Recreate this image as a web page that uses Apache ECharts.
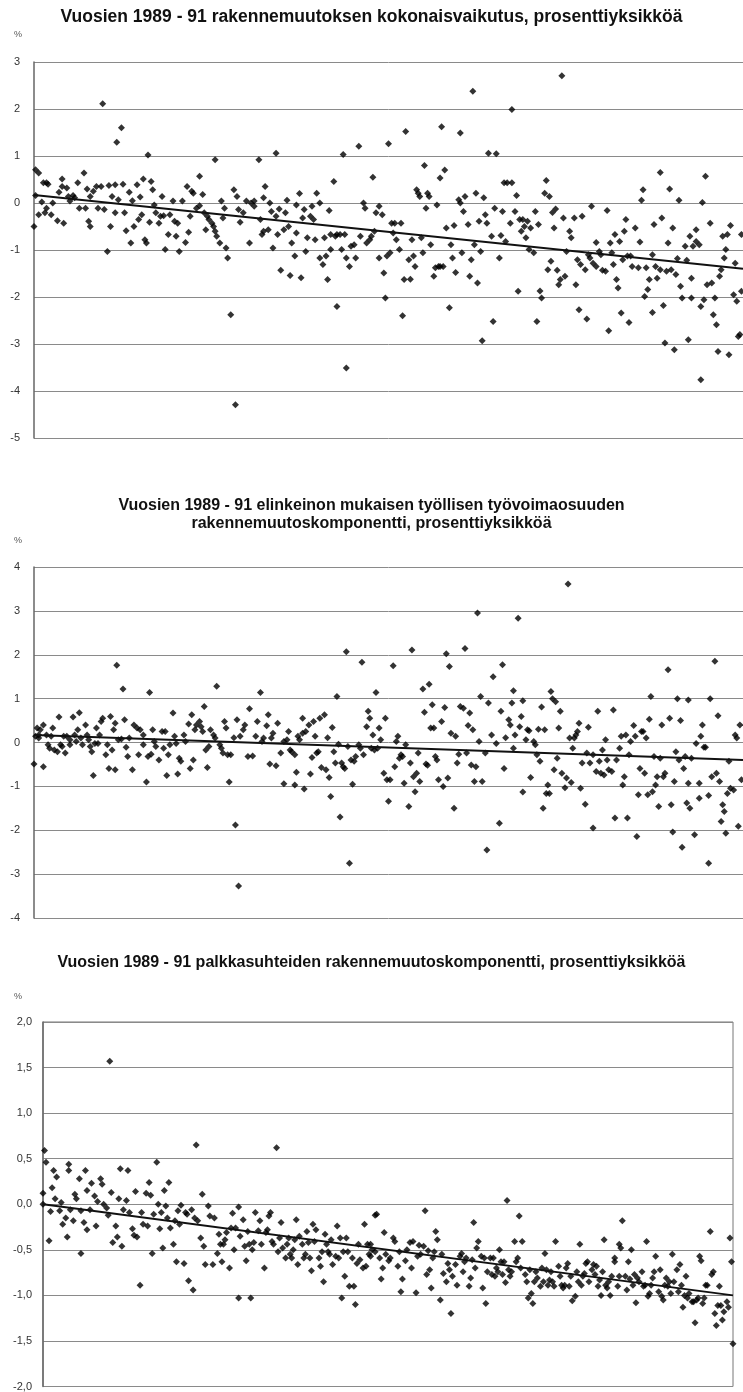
<!DOCTYPE html>
<html>
<head>
<meta charset="utf-8">
<script src="https://cdn.jsdelivr.net/npm/echarts@6/dist/echarts.min.js"></script>
<style>
  html, body { margin: 0; padding: 0; background: #fff; }
  #chart { width: 743px; height: 1392px; }
</style>
</head>
<body>
<div id="chart"></div>
<script>
// Chart texts
const titleTotal = 'Vuosien 1989 - 91 rakennemuutoksen kokonaisvaikutus, prosenttiyksikköä';
const titleIndustry = 'Vuosien 1989 - 91 elinkeinon mukaisen työllisen työvoimaosuuden\nrakennemuutoskomponentti, prosenttiyksikköä';
const titleWage = 'Vuosien 1989 - 91 palkkasuhteiden rakennemuutoskomponentti, prosenttiyksikköä';

// Chart 1: total effect
const totalA = [[0,-0.50],[1,0.16],[1,0.71],[3,0.64],[3,-0.25],[5,0.02],[6,0.43],[7,-0.21],[8,0.43],[8,-0.11],[9,0.40],[11,-0.25],[12,0.00],[15,-0.38],[16,0.23],[18,0.51],[18,0.35],[19,-0.43],[21,0.32],[22,0.14],[23,0.04],[25,0.16],[26,0.11],[28,0.43],[29,-0.11],[32,0.64],[33,-0.11],[34,0.30],[35,-0.39],[36,-0.50],[36,0.14],[38,0.25],[40,0.35],[41,-0.11],[43,0.35],[44,2.11],[45,-0.14],[47,-1.03],[48,0.37],[49,-0.50],[50,0.14],[52,0.39],[52,-0.21],[53,1.29],[54,0.07],[56,1.60],[57,0.40],[58,-0.21],[59,-0.59],[61,0.23],[62,-0.85],[63,0.05],[64,-0.50],[66,0.39],[67,-0.35],[68,0.13],[69,-0.25],[70,0.51],[71,-0.78],[72,-0.85],[73,1.02],[74,-0.41],[75,0.46],[76,0.28],[77,-0.04],[78,-0.21],[80,-0.43],[81,-0.28],[82,0.14],[83,-0.27],[84,-0.99],[86,-0.67],[87,-0.25],[89,0.04],[90,-0.39],[91,-0.71],[92,-0.43],[93,-1.03],[95,0.04],[97,-0.84],[98,0.35],[99,-0.62],[100,-0.28],[101,0.25],[102,0.21],[104,-0.11],[106,0.57],[106,-0.06],[108,0.18],[109,-0.21],[110,-0.57],[111,-0.28],[112,-0.35],[114,-0.43],[115,-0.50],[116,0.92],[116,-0.60],[117,-0.71],[119,-0.85],[120,0.04],[121,-0.32],[122,-0.11],[123,-0.96],[124,-1.17],[126,-2.38],[128,0.28],[129,-4.29],[130,0.14],[131,-0.14],[132,-0.41],[134,-0.21],[136,0.04],[138,-0.85]];
const totalB = [[139,0.00],[141,-0.07],[141,0.04],[144,0.92],[145,-0.35],[146,-0.67],[147,-0.60],[147,0.11],[148,0.35],[150,-0.57],[151,0.00],[152,-0.18],[153,-0.96],[155,1.06],[155,-0.28],[156,-0.67],[157,-0.13],[158,-1.43],[160,-0.57],[161,-0.21],[162,0.06],[163,-0.50],[164,-1.54],[165,-0.85],[167,-1.13],[168,-0.04],[168,-0.64],[170,0.20],[171,-1.59],[172,-0.32],[173,-0.14],[174,-1.03],[175,-0.74],[177,-0.28],[178,-0.07],[179,-0.35],[180,-0.78],[181,0.21],[183,-1.17],[183,0.00],[185,-1.31],[186,-0.74],[187,-1.13],[188,-1.63],[189,-0.16],[190,-0.67],[190,-0.99],[192,0.46],[193,-0.71],[194,-2.20],[194,-0.67],[196,-0.67],[197,-0.99],[198,1.03],[199,-0.67],[200,-3.51],[200,-1.17],[202,-1.35],[203,-0.92],[205,-0.89],[206,-1.17],[208,1.21],[209,-0.71],[211,0.00],[212,-0.11],[213,-0.85],[215,-0.78],[216,-0.71],[217,0.55],[218,-0.60],[219,-0.21],[221,-0.07],[221,-1.17],[223,-0.25],[224,-1.49],[225,-2.02],[226,-1.13],[227,1.26],[228,-1.06],[229,-0.43],[230,-0.64],[231,-0.43],[232,-0.78],[234,-0.99],[235,-0.43],[236,-2.40],[237,-1.63],[238,1.52],[240,-1.21],[241,-1.62],[242,-0.78],[243,-1.13],[244,-1.35],[245,0.28],[246,0.21],[247,0.14],[248,-0.74],[249,-1.06],[250,0.80],[251,-0.11],[252,0.21],[253,0.14],[254,-0.89],[256,-1.56],[257,-1.38],[258,-0.04],[259,-1.35],[260,0.53],[260,-1.35],[261,1.62],[262,-1.35],[263,0.70],[264,-0.53],[266,-2.23],[267,-0.89],[268,-1.17],[269,-0.48],[270,-1.48],[272,0.07],[273,1.49],[273,0.00],[274,-1.06],[275,-0.18],[276,0.14],[278,-0.46],[279,-1.56],[280,-1.21],[281,2.38],[282,-0.89],[283,0.21],[284,-1.70],[285,-0.39],[286,-1.03],[287,-2.93],[288,0.11],[289,-0.25],[290,-0.43],[291,1.06]];
const totalC = [[293,-0.71],[294,-2.52],[295,-0.11],[296,1.05],[298,-1.17],[299,-0.69],[300,-0.18],[301,0.43],[302,-0.82],[303,0.43],[305,-0.43],[306,0.43],[306,1.99],[308,-0.18],[309,0.16],[310,-1.88],[311,-0.35],[312,-0.60],[313,-0.35],[314,-0.50],[315,-0.74],[316,-0.39],[317,-0.99],[318,-0.53],[320,-1.06],[321,-0.18],[322,-2.52],[323,-0.46],[324,-1.87],[325,-2.02],[327,0.21],[328,0.48],[329,-1.42],[330,0.14],[331,-1.24],[332,-0.20],[333,-0.53],[334,-0.13],[335,-1.43],[336,-1.74],[337,-1.63],[338,2.71],[339,-0.32],[340,-1.56],[341,-1.03],[343,-0.60],[344,-0.74],[346,-0.32],[347,-1.74],[348,-1.21],[349,-2.27],[350,-1.31],[351,-0.28],[353,-1.42],[354,-2.47],[355,-1.10],[356,-1.17],[357,-0.07],[358,-1.28],[360,-1.35],[360,-0.84],[362,-1.03],[363,-1.10],[364,-1.43],[366,-1.45],[367,-0.16],[368,-2.72],[369,-0.85],[370,-1.06],[371,-1.31],[372,-0.67],[373,-1.63],[374,-1.81],[375,-0.82],[376,-2.34],[377,-1.21],[378,-0.60],[379,-0.35],[380,-1.13],[381,-2.54],[382,-1.13],[383,-1.35],[385,-0.53],[387,-1.38],[388,-0.83],[389,0.06],[390,0.28],[391,-1.99],[392,-1.38],[393,-1.84],[394,-1.63],[396,-1.10],[396,-2.33],[397,-0.46],[398,-1.35],[399,-1.60],[401,-1.42],[401,0.65],[402,-0.32],[403,-2.18],[404,-2.98],[405,-1.45],[406,-0.85],[407,0.30],[408,-1.42],[409,-0.53],[410,-3.12],[411,-1.52],[412,-1.18],[413,0.06],[414,-1.77],[415,-2.02],[417,-0.92],[418,-1.22],[419,-2.91],[420,-0.71],[421,-2.02],[421,-1.60],[422,-0.92],[424,-0.82],[424,-0.57],[426,-0.89],[427,-2.20],[427,-3.76],[428,0.01],[429,-2.06],[430,0.57],[431,-1.74],[433,-0.43],[434,-1.70],[435,-2.38],[436,-2.02],[437,-2.59],[438,-3.16],[439,-1.56],[440,-1.42],[441,-0.71],[442,-1.17],[443,-0.99],[444,-0.67],[445,-3.23],[446,-0.48],[448,-1.95],[449,-1.28],[450,-2.09],[451,-2.84],[452,-2.80],[453,-1.88],[453,-0.67]];
const totalTrend = [0.17, -1.40];

// Chart 2: industry-based employment share component
const industryA = [[0,-0.49],[1,0.14],[2,0.33],[3,0.17],[3,0.10],[4,0.29],[6,-0.55],[6,0.40],[8,0.17],[9,-0.05],[10,-0.13],[11,0.14],[12,0.33],[13,-0.17],[15,-0.21],[16,0.58],[17,-0.05],[18,-0.09],[19,0.14],[20,-0.24],[21,0.14],[23,-0.05],[23,0.06],[25,0.58],[26,0.17],[27,0.02],[28,0.29],[29,0.68],[30,0.10],[31,-0.05],[33,0.40],[34,0.17],[35,0.06],[36,-0.09],[37,-0.21],[38,-0.75],[39,-0.02],[40,0.33],[41,-0.02],[42,0.17],[43,0.48],[44,0.55],[46,-0.28],[47,-0.05],[48,-0.59],[49,0.59],[50,-0.17],[51,0.29],[52,-0.62],[52,0.44],[53,1.76],[54,0.06],[56,0.08],[57,1.22],[58,0.52],[59,-0.11],[60,-0.32],[61,0.10],[63,-0.62],[64,0.40],[66,0.33],[67,-0.28],[68,0.29],[70,0.17],[70,-0.05],[72,-0.90],[73,-0.32],[74,1.14],[75,-0.27],[76,0.29],[77,0.02],[78,-0.09],[80,-0.40],[82,0.25],[83,-0.13],[84,0.25],[85,-0.75],[86,-0.28],[87,-0.05],[89,0.67],[90,0.14],[91,-0.02],[92,-0.72],[93,-0.36],[94,-0.43],[96,0.17],[97,0.02],[99,0.42],[100,-0.59],[101,0.63],[102,-0.40],[103,0.29],[104,0.40],[106,0.48],[107,0.36],[108,0.25],[109,0.82],[110,-0.17],[111,-0.57],[112,-0.09],[113,0.29],[115,0.17],[116,0.10],[117,1.28],[119,-0.05],[120,-0.13],[121,-0.24],[122,0.48],[123,0.33],[124,-0.28],[125,-0.90],[126,-0.28],[128,0.11],[129,-1.88],[130,0.52],[131,-3.27],[132,0.14],[134,0.29],[135,0.40],[137,-0.32],[138,0.77]];
const industryB = [[140,-0.31],[142,0.14],[143,0.48],[145,1.14],[146,0.02],[147,0.10],[149,0.38],[150,0.63],[151,-0.49],[152,0.10],[153,0.21],[155,-0.53],[156,0.44],[158,-0.24],[160,0.02],[160,-0.94],[162,0.06],[163,0.25],[164,-0.17],[165,-0.21],[167,-0.97],[167,-0.28],[168,-0.68],[169,0.14],[170,0.06],[172,0.55],[172,0.21],[173,-1.06],[174,0.25],[176,0.40],[177,-0.72],[178,-0.34],[179,0.48],[180,0.14],[181,-0.24],[182,-0.21],[183,0.55],[184,-0.57],[186,0.63],[187,-0.62],[188,0.11],[189,-0.80],[190,-1.23],[191,0.34],[192,-0.21],[193,-0.47],[194,1.05],[195,-0.04],[196,-1.70],[197,-0.47],[198,-0.55],[199,-0.59],[200,2.07],[201,-0.09],[202,-2.75],[203,-0.40],[204,-0.95],[205,-0.43],[206,-0.32],[208,-0.05],[209,-0.13],[210,1.83],[211,-0.28],[213,0.36],[214,0.71],[215,0.55],[216,-0.13],[217,0.17],[218,-0.17],[219,1.14],[220,-0.13],[221,0.33],[222,0.06],[224,-0.70],[225,0.55],[226,-0.85],[227,-1.34],[228,-0.85],[230,1.75],[231,-0.55],[232,0.02],[233,0.14],[234,-0.36],[235,-0.28],[236,-0.32],[237,-0.93],[238,-0.05],[240,-1.46],[241,-0.47],[242,2.11],[243,-0.78],[244,-1.12],[245,-0.70],[246,-0.24],[247,-0.89],[249,1.22],[250,0.69],[251,-0.49],[252,-0.52],[253,1.33],[254,0.33],[255,0.86],[256,0.33],[257,-0.32],[258,-0.40],[259,-0.85],[261,0.48],[262,-1.00],[263,0.80],[264,2.02],[265,-0.81],[266,1.73],[267,0.21],[269,-1.50],[270,0.14],[271,-0.47],[272,-0.27],[273,0.82],[275,0.78],[276,2.14],[277,-0.24],[278,0.39],[279,0.67],[280,-0.51],[281,0.29],[282,-0.89],[283,-0.55],[284,2.95],[285,0.02],[286,1.05],[287,-0.89],[289,-0.24],[290,-2.45],[291,0.90],[293,0.17],[294,1.50]];
const industryC = [[296,-0.02],[298,-1.84],[299,0.71],[300,1.77],[301,-0.59],[302,0.11],[304,0.52],[305,0.40],[306,0.90],[307,-0.13],[307,1.18],[308,0.17],[310,2.83],[311,0.36],[312,0.59],[313,0.95],[313,-1.13],[315,0.06],[316,0.29],[317,0.27],[318,-0.80],[320,0.02],[321,-0.05],[322,-0.28],[323,0.30],[324,-0.43],[325,0.81],[326,-1.50],[327,0.29],[328,-1.16],[329,-0.97],[330,-1.16],[331,1.16],[332,1.00],[333,-0.62],[334,0.93],[335,-0.36],[336,0.33],[337,0.71],[338,-0.70],[340,-1.03],[341,-0.81],[342,3.61],[343,0.10],[344,-0.91],[345,-0.13],[346,0.10],[347,0.17],[348,0.25],[349,0.44],[350,-1.04],[351,-0.47],[353,-1.41],[354,-0.24],[355,0.35],[356,-0.47],[358,-0.28],[358,-1.95],[360,-0.66],[361,0.71],[362,-0.43],[363,-0.70],[364,-0.17],[365,-0.74],[366,0.06],[367,-0.40],[368,-0.62],[370,-0.66],[371,0.74],[372,-1.72],[373,-0.40],[375,-0.13],[376,0.14],[377,-0.97],[378,-0.78],[379,0.17],[380,-1.72],[381,-0.28],[382,0.02],[384,0.39],[385,0.14],[386,-2.14],[387,-1.19],[388,-0.59],[389,0.25],[390,0.25],[391,-0.70],[392,0.10],[393,-1.19],[394,0.53],[395,1.05],[396,-1.12],[397,-0.32],[398,-0.97],[399,-0.78],[400,-1.46],[401,-0.36],[402,0.40],[403,-0.78],[404,-0.70],[406,1.66],[407,0.55],[408,-1.42],[409,-2.04],[410,-0.89],[411,-0.21],[412,1.00],[413,-0.40],[414,0.50],[415,-2.39],[416,-0.59],[417,-0.32],[418,-1.38],[419,0.97],[419,-0.93],[420,-1.50],[421,-0.36],[423,-2.10],[424,-0.02],[426,-1.27],[426,-0.93],[427,0.14],[428,0.40],[429,-0.11],[430,-0.11],[432,-1.21],[432,-2.75],[433,1.00],[434,-0.78],[436,1.85],[437,-0.70],[438,0.61],[439,-0.89],[440,-1.80],[441,-1.42],[442,-1.57],[443,-2.07],[444,-1.16],[445,-0.43],[446,-1.04],[448,-1.08],[449,0.17],[450,0.10],[451,-1.91],[452,0.40],[453,-0.85]];
const industryTrend = [0.17, -0.40];

// Chart 3: wage relation component
const wageA = [[0,0.00],[0,0.12],[1,0.59],[2,0.46],[4,-0.40],[5,-0.08],[6,0.18],[7,0.37],[8,0.06],[9,0.30],[11,-0.07],[12,0.02],[13,-0.22],[15,-0.15],[16,-0.36],[17,0.44],[17,0.37],[18,-0.06],[20,-0.18],[21,0.11],[22,0.06],[24,0.28],[25,-0.54],[25,-0.07],[27,-0.20],[28,0.37],[29,0.15],[29,-0.28],[31,-0.06],[32,0.23],[34,0.09],[35,-0.24],[36,0.03],[38,0.28],[39,0.22],[40,0.00],[42,-0.04],[43,-0.12],[44,1.57],[45,0.13],[46,-0.42],[48,-0.24],[49,-0.36],[50,0.06],[51,0.39],[52,-0.46],[53,-0.06],[55,0.04],[56,0.37],[57,-0.09],[59,-0.27],[60,-0.34],[61,0.14],[62,-0.36],[64,-0.89],[65,-0.09],[66,-0.22],[68,0.12],[69,-0.24],[70,0.24],[71,0.10],[72,-0.54],[73,-0.11],[75,0.46],[76,0.00],[77,-0.27],[78,-0.09],[79,-0.48],[80,0.15],[81,-0.02],[82,-0.15],[83,0.24],[84,-0.26],[86,-0.44],[87,-0.18],[88,-0.63],[89,-0.07],[90,-0.22],[91,-0.01],[93,-0.65],[94,-0.09],[95,-0.11],[96,-0.84],[98,-0.06],[99,-0.94],[100,-0.15],[101,0.65],[102,-0.18],[104,-0.37],[105,0.11],[106,-0.46],[107,-0.66]];
const wageB = [[109,-0.02],[110,-0.13],[112,-0.66],[113,-0.15],[115,-0.54],[116,-0.33],[117,-0.44],[118,-0.63],[119,-0.44],[120,-0.39],[121,-0.31],[123,-0.70],[124,-0.26],[125,-0.10],[126,-0.50],[127,-0.26],[129,-1.03],[129,-0.03],[130,-0.35],[132,-0.17],[133,-0.46],[134,-0.62],[135,-0.30],[136,-0.44],[137,-1.03],[138,-0.50],[139,-0.42],[140,-0.09],[142,-0.29],[143,-0.18],[144,-0.44],[146,-0.70],[147,-0.31],[148,-0.28],[149,-0.13],[150,-0.09],[151,-0.41],[152,-0.44],[154,0.62],[155,-0.52],[156,-0.37],[157,-0.20],[158,-0.48],[160,-0.59],[161,-0.44],[162,-0.37],[163,-0.55],[164,-0.59],[165,-0.50],[166,-0.39],[167,-0.17],[168,-0.66],[169,-0.35],[171,-0.44],[172,-0.59],[173,-0.55],[174,-0.30],[175,-0.42],[176,-0.59],[177,-0.73],[178,-0.22],[179,-0.41],[180,-0.28],[182,-0.59],[183,-0.68],[184,-0.52],[185,-0.85],[186,-0.33],[187,-0.44],[188,-0.52],[189,-0.55],[190,-0.39],[191,-0.66],[193,-0.57],[194,-0.24],[195,-0.59],[196,-0.37],[197,-1.03],[198,-0.52],[199,-0.79],[200,-0.37],[201,-0.52],[202,-0.90],[204,-0.59],[205,-0.90],[206,-1.10],[207,-0.65],[208,-0.44],[209,-0.61],[211,-0.70],[212,-0.22],[213,-0.68],[214,-0.44],[215,-0.55],[216,-0.44],[217,-0.50],[219,-0.12]];
const wageC = [[216,-0.57],[219,-0.52],[220,-0.11],[222,-0.59],[223,-0.82],[224,-0.70],[225,-0.31],[226,-0.55],[228,-0.62],[229,-0.59],[231,-0.37],[232,-0.41],[234,-0.68],[235,-0.52],[236,-0.96],[237,-0.82],[239,-0.62],[240,-0.50],[242,-0.42],[243,-0.70],[244,-0.41],[246,-0.97],[247,-0.57],[248,-0.45],[249,-0.55],[251,-0.46],[252,-0.07],[253,-0.77],[254,-0.51],[255,-0.72],[256,-0.92],[257,-0.59],[258,-0.52],[259,-0.30],[260,-0.39],[262,-1.05],[263,-0.55],[264,-0.76],[266,-0.85],[267,-0.65],[268,-0.72],[269,-1.20],[270,-0.79],[272,-0.66],[273,-0.89],[275,-0.57],[276,-0.54],[277,-0.74],[278,-0.63],[279,-0.59],[281,-0.90],[282,-0.81],[283,-0.61],[284,-0.20],[285,-0.70],[286,-0.48],[287,-0.41],[289,-0.57],[290,-0.92],[291,-0.59],[292,-1.09],[293,-0.74],[295,-0.59],[296,-0.77],[297,-0.59],[298,-0.79],[299,-0.70],[300,-0.74],[301,-0.50],[302,-0.63],[303,-0.77],[304,-0.63],[305,-0.86],[306,0.04],[307,-0.72],[308,-0.79],[309,-0.74],[311,-0.41],[312,-0.63],[313,-0.59],[314,-0.13],[315,-0.70],[316,-0.41],[318,-0.77],[319,-0.85],[320,-1.03],[321,-0.72],[322,-0.98],[323,-1.09],[324,-0.85],[325,-0.74],[326,-0.81],[328,-0.90],[329,-0.70],[330,-0.85],[331,-0.54],[332,-0.72],[333,-0.89],[334,-0.83]];
const wageD = [[335,-0.74],[336,-0.85],[337,-0.90],[338,-0.41],[340,-0.68],[341,-0.79],[342,-0.89],[343,-0.92],[344,-0.89],[345,-0.70],[346,-0.65],[347,-0.90],[348,-0.79],[349,-1.06],[351,-1.01],[352,-0.74],[353,-0.85],[354,-0.44],[355,-0.89],[356,-0.79],[357,-0.76],[358,-0.65],[359,-0.63],[360,-0.85],[362,-0.72],[363,-0.66],[364,-0.77],[365,-0.68],[366,-0.90],[367,-0.83],[368,-1.00],[369,-0.74],[370,-0.39],[371,-0.89],[372,-0.92],[373,-0.85],[374,-1.00],[375,-0.79],[377,-0.63],[377,-0.59],[379,-0.90],[380,-0.44],[380,-0.79],[381,-0.48],[382,-0.18],[384,-0.79],[385,-0.94],[386,-0.63],[387,-0.82],[388,-0.50],[389,-0.89],[390,-0.77],[391,-1.08],[392,-0.81],[393,-0.85],[395,-0.74],[396,-0.90],[397,-0.89],[398,-0.41],[399,-1.01],[400,-0.98],[401,-0.89],[402,-0.81],[403,-0.74],[404,-0.57],[406,-0.96],[407,-0.72],[408,-1.01],[409,-1.05],[410,-0.89],[411,-0.81],[412,-0.90],[413,-0.85],[414,-0.98],[415,-0.55],[416,-0.85],[418,-0.72],[419,-0.96],[420,-0.66],[421,-0.89],[422,-1.13],[423,-1.00],[424,-0.79],[425,-1.03],[426,-0.98],[428,-1.07],[429,-1.07],[430,-1.30],[431,-1.05],[432,-1.03],[433,-0.57],[434,-0.62],[435,-1.09],[436,-1.03],[437,-0.89],[438,-0.89],[440,-0.30],[441,-0.77],[442,-0.74],[443,-1.20],[444,-1.33],[445,-1.11],[446,-0.90],[447,-1.11],[448,-1.27],[449,-1.18],[451,-1.07],[452,-1.13],[453,-0.37],[454,-0.63],[455,-1.53]];
const wageTrend = [0.00, -1.00];

// Axis ranges
const obsMax = [454, 454, 455];
const yRange = [[-5, 3, 1], [-4, 4, 1], [-2, 2, 0.5]];

const FONT = '"Liberation Sans", Arial, sans-serif';
const chart = echarts.init(document.getElementById('chart'), null, { renderer: 'canvas' });

function pointSeries(i, data) {
  return {
    type: 'scatter',
    xAxisIndex: i,
    yAxisIndex: i,
    data: data,
    symbol: 'diamond',
    symbolSize: 7,
    itemStyle: { color: '#000' },
    silent: true,
    z: 3
  };
}

function trendSeries(i, trend) {
  return {
    type: 'line',
    xAxisIndex: i,
    yAxisIndex: i,
    data: [[0, trend[0]], [obsMax[i], trend[1]]],
    symbol: 'none',
    lineStyle: { color: '#111', width: 2 },
    silent: true,
    z: 4
  };
}

const percentLabel = (top) => ({
  text: '%', left: 9, top: top,
  textStyle: { fontFamily: FONT, fontSize: 9, fontWeight: 'normal', color: '#555' }
});

const option = {
  animation: false,
  backgroundColor: '#fff',
  title: [
    { text: titleTotal, left: 'center', top: 3,
      textStyle: { fontFamily: FONT, fontSize: 17.5, fontWeight: 'bold', color: '#111' } },
    percentLabel(25),
    { text: titleIndustry, left: 'center', top: 492,
      textStyle: { fontFamily: FONT, fontSize: 16, fontWeight: 'bold', color: '#111', lineHeight: 18 } },
    percentLabel(531),
    { text: titleWage, left: 'center', top: 950,
      textStyle: { fontFamily: FONT, fontSize: 16, fontWeight: 'bold', color: '#111' } },
    percentLabel(987)
  ],
  grid: [
    { left: 34, top: 62, right: 0, height: 376 },
    { left: 34, top: 567, right: 0, height: 351 },
    { left: 43, top: 1022, right: 10, height: 365, show: true, borderColor: '#777', borderWidth: 1 }
  ],
  xAxis: [0, 1, 2].map(i => ({
    gridIndex: i,
    type: 'value',
    min: 0,
    max: obsMax[i],
    axisLine: { show: false },
    axisTick: { show: false },
    axisLabel: { show: false },
    splitLine: { show: false }
  })),
  yAxis: [0, 1, 2].map(i => ({
    gridIndex: i,
    type: 'value',
    min: yRange[i][0],
    max: yRange[i][1],
    interval: yRange[i][2],
    axisLine: { show: true, lineStyle: { color: '#666', width: 1.5 } },
    axisTick: { show: false },
    axisLabel: {
      margin: i === 2 ? 11 : 14,
      fontFamily: FONT,
      fontSize: 11,
      color: '#333',
      formatter: v => i === 2 ? v.toFixed(1).replace('.', ',') : String(v)
    },
    splitLine: { show: true, lineStyle: { color: '#8a8a8a', width: 1 } }
  })),
  series: [
    pointSeries(0, [...totalA, ...totalB, ...totalC]),
    trendSeries(0, totalTrend),
    pointSeries(1, [...industryA, ...industryB, ...industryC]),
    trendSeries(1, industryTrend),
    pointSeries(2, [...wageA, ...wageB, ...wageC, ...wageD]),
    trendSeries(2, wageTrend)
  ]
};

chart.setOption(option);
</script>
</body>
</html>
